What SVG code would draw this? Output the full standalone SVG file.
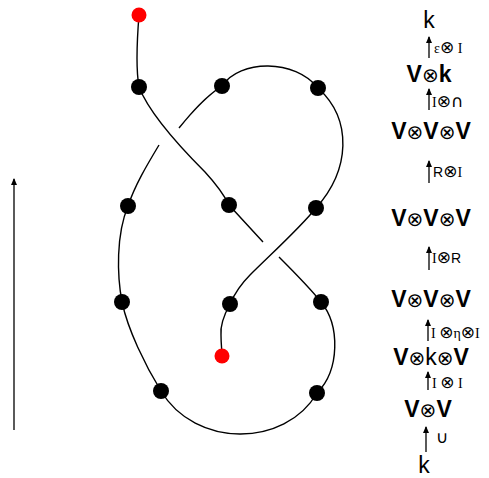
<svg xmlns="http://www.w3.org/2000/svg" width="489" height="478" viewBox="0 0 489 478">
<style>
.s{fill:none;stroke:#000;stroke-width:1.4}
.d{fill:#000}
.r{fill:#f00}
.big{font-family:"Liberation Sans","DejaVu Sans",sans-serif;font-size:23px;font-weight:bold;fill:#000}
.o{font-family:"DejaVu Sans",sans-serif;font-weight:normal;font-size:20px}
.kk{font-weight:normal}
.lab{font-family:"Liberation Serif","DejaVu Serif",serif;font-size:14px;fill:#000}
.so{font-family:"DejaVu Sans",sans-serif;font-size:17px}
.sa{font-family:"Liberation Sans","DejaVu Sans",sans-serif;font-size:14px}
.cap{font-family:"DejaVu Sans",sans-serif;font-size:17px}
.ar{stroke:#000;stroke-width:1.3;fill:none;marker-end:url(#ah)}
</style>
<defs>
<marker id="ah" markerWidth="8" markerHeight="8" refX="6" refY="4" orient="auto" markerUnits="userSpaceOnUse">
<path d="M0,1 L7,4 L0,7 z" fill="#000"/>
</marker>
</defs>
<g id="connectors">
<path class="s" d="M139,15 C137,40 136,70 139,87"/>
<path class="s" d="M139,87 C148,110 175,142 205,172 C217,185 224,195 229,205 L263,242"/>
<path class="s" d="M279,257 C295,273 310,288 321,302"/>
<path class="s" d="M321,302 C340,325 340,370 317,393"/>
<path class="s" d="M317,393 C285,448 195,448 161,391"/>
<path class="s" d="M161,391 C145,365 128,330 122,302"/>
<path class="s" d="M122,302 C117,275 116,235 128,206"/>
<path class="s" d="M128,206 C135,185 147,165 159,145"/>
<path class="s" d="M179,128 C192,112 205,97 222,86"/>
<path class="s" d="M222,86 C240,59 295,59 318,88"/>
<path class="s" d="M318,88 C353,120 350,170 316,208"/>
<path class="s" d="M316,208 C300,228 270,255 250,275 C240,285 234,295 230,304"/>
<path class="s" d="M230,304 C224,315 220,325 221,335 C221,345 222,350 222,356"/>
<line class="ar" x1="14" y1="430" x2="14" y2="179"/>
</g>
<g id="n-start"><circle class="r" cx="139" cy="15" r="7.5"/></g>
<g id="n1"><circle class="d" cx="139" cy="87" r="8"/></g>
<g id="n2"><circle class="d" cx="222" cy="86" r="8"/></g>
<g id="n3"><circle class="d" cx="318" cy="88" r="8"/></g>
<g id="n4"><circle class="d" cx="128" cy="206" r="8"/></g>
<g id="n5"><circle class="d" cx="229" cy="205" r="8"/></g>
<g id="n6"><circle class="d" cx="316" cy="208" r="8"/></g>
<g id="n7"><circle class="d" cx="122" cy="302" r="8"/></g>
<g id="n8"><circle class="d" cx="230" cy="304" r="8"/></g>
<g id="n9"><circle class="d" cx="321" cy="302" r="8"/></g>
<g id="n10"><circle class="d" cx="161" cy="391" r="8"/></g>
<g id="n11"><circle class="d" cx="317" cy="393" r="8"/></g>
<g id="n-end"><circle class="r" cx="222" cy="356" r="7.5"/></g>
<g id="tower">
<text class="big kk" x="429" y="28" text-anchor="middle" font-size="21">k</text>
<line class="ar" x1="429" y1="58" x2="429" y2="37"/>
<text class="lab" x="434" y="53">ε<tspan class="so">⊗</tspan> I</text>
<text class="big" x="429" y="82" text-anchor="middle">V<tspan class="o">⊗</tspan>k</text>
<line class="ar" x1="429" y1="110" x2="429" y2="89"/>
<text class="lab" x="432" y="107">I<tspan class="so">⊗</tspan><tspan class="cap">∩</tspan></text>
<text class="big" x="431" y="139" text-anchor="middle">V<tspan class="o">⊗</tspan>V<tspan class="o">⊗</tspan>V</text>
<line class="ar" x1="429" y1="183" x2="429" y2="161"/>
<text class="lab" x="433" y="177"><tspan class="sa">R</tspan><tspan class="so">⊗</tspan>I</text>
<text class="big" x="431" y="226" text-anchor="middle">V<tspan class="o">⊗</tspan>V<tspan class="o">⊗</tspan>V</text>
<line class="ar" x1="429" y1="270" x2="429" y2="247"/>
<text class="lab" x="432" y="263">I<tspan class="so">⊗</tspan><tspan class="sa">R</tspan></text>
<text class="big" x="431" y="307" text-anchor="middle">V<tspan class="o">⊗</tspan>V<tspan class="o">⊗</tspan>V</text>
<line class="ar" x1="428" y1="341" x2="428" y2="320"/>
<text class="lab" x="431" y="338">I <tspan class="so">⊗</tspan>η<tspan class="so">⊗</tspan>I</text>
<text class="big" x="431" y="365" text-anchor="middle">V<tspan class="o">⊗</tspan><tspan class="kk">k</tspan><tspan class="o">⊗</tspan>V</text>
<line class="ar" x1="428" y1="390" x2="428" y2="372"/>
<text class="lab" x="432" y="388">I <tspan class="so">⊗</tspan> I</text>
<text class="big" x="428" y="417" text-anchor="middle">V<tspan class="o">⊗</tspan>V</text>
<line class="ar" x1="426" y1="452" x2="426" y2="427"/>
<text class="cap" x="436" y="443">∪</text>
<text class="big kk" x="424" y="473" text-anchor="middle" font-size="21">k</text>
</g>
</svg>
